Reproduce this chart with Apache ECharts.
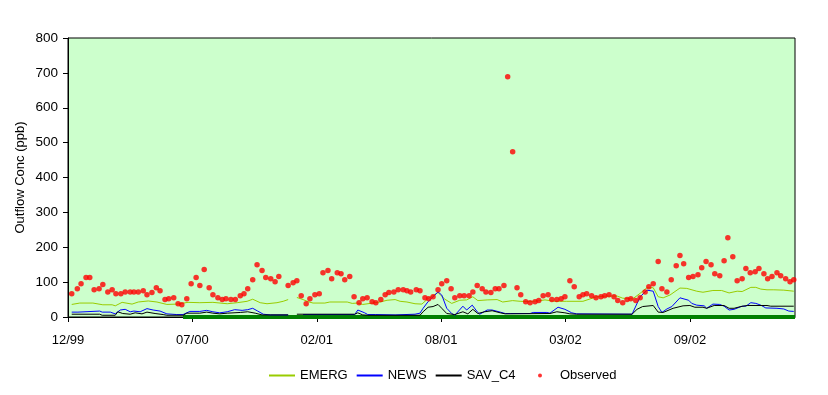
<!DOCTYPE html>
<html><head><meta charset="utf-8">
<script src="https://cdn.jsdelivr.net/npm/echarts@6/dist/echarts.min.js"></script>
<style>html,body{margin:0;padding:0;background:#fff}#c{width:828px;height:395px}</style>
</head><body><div id="c"></div>
<script>
// Days counted from 1999-12-31
const startDate = Date.UTC(1999, 11, 31);
const xTickDays = [0, 200, 400, 600, 800, 1000];
const xMaxDay = 1169;
const yTicks = [0, 100, 200, 300, 400, 500, 600, 700, 800];

const obsDay = [6,15,21,29,35,42,50,56,64,71,77,85,92,100,106,113,121,127,135,142,148,156,162,170,177,183,191,198,206,212,219,227,233,241,248,254,262,269,277,283,289,297,304,312,318,326,333,339,354,362,368,375,383,389,397,404,410,418,424,433,439,445,453,460,468,474,481,489,495,503,510,516,524,531,539,545,551,560,566,574,580,587,595,601,609,616,622,630,637,645,651,658,666,672,680,687,693,701,707,715,722,728,736,743,751,757,764,772,778,786,793,799,807,814,822,828,834,842,849,857,863,870,878,884,892,899,905,913,920,928,934,941,949,955,963,970,978,984,990,998,1005,1013,1019,1026,1034,1040,1048,1055,1061,1069,1076,1084,1090,1097,1105,1111,1119,1125,1132,1140,1146,1154,1161,1167];
const obsVal = [67,81,95,113,113,78,81,93,72,78,67,67,72,72,72,72,75,64,70,84,75,50,52,55,38,35,52,95,113,90,136,84,64,55,50,52,50,50,61,67,81,107,150,133,113,110,101,116,90,98,104,61,38,52,64,67,127,133,110,127,124,107,116,58,41,52,55,44,41,50,64,70,72,78,78,75,72,78,75,55,52,58,78,95,104,81,55,61,61,61,72,90,81,72,70,81,81,90,689,474,84,64,44,41,44,47,61,64,50,50,52,58,104,87,58,64,67,61,55,58,61,64,58,47,41,50,52,47,55,72,87,95,159,81,72,107,147,176,153,113,116,121,141,159,150,124,118,161,227,173,104,110,139,127,130,139,124,110,116,127,118,110,101,107];

const emergDay = [6,19,40,56,71,76,87,103,113,129,143,159,175,193,212,233,256,272,288,297,309,320,336,346,354,361,368,378,386,394,413,421,449,457,465,474,486,502,513,526,534,545,558,569,579,595,606,617,630,641,651,659,674,690,699,715,727,743,759,767,783,802,828,850,867,883,892,908,920,931,941,949,957,968,984,995,1011,1021,1037,1051,1063,1076,1084,1098,1106,1114,1124,1135,1151,1167];
const emergVal = [36,40,40,35,35,32,42,37,43,46,43,36,37,42,41,42,38,41,45,51,41,38,41,45,50,null,56,50,44,40,40,43,43,39,40,36,39,43,48,50,45,43,38,37,53,70,51,39,48,49,58,47,49,50,43,47,45,44,47,49,45,45,45,58,60,60,54,52,68,84,84,58,55,63,83,82,74,71,76,76,69,74,73,85,85,80,78,78,77,74];

const newsDay = [6,16,19,51,55,68,71,76,84,92,100,106,116,127,137,148,159,175,185,196,212,223,233,244,256,268,280,289,297,305,314,325,354,366,378,461,466,469,477,482,494,497,526,529,558,566,571,579,587,595,601,609,617,622,635,641,650,658,662,674,682,695,703,711,743,748,770,775,778,788,799,810,818,907,920,931,941,949,955,963,971,984,998,1003,1011,1023,1027,1037,1048,1055,1063,1071,1084,1090,1098,1106,1114,1122,1140,1151,1159,1167];
const newsVal = [14,14,17,17,14,14,10,9,20,22,15,17,15,24,20,17,9,7,7,16,16,19,15,12,15,21,19,21,25,17,8,6,6,null,7,7,20,22,12,7,7,6,6,8,8,11,25,44,58,72,63,25,10,5,31,20,34,15,8,20,20,14,10,10,10,13,13,11,10,28,22,12,9,8,58,77,74,30,13,23,30,55,48,39,34,32,25,37,36,31,20,22,31,31,41,39,34,26,25,23,17,16];

const savDay = [6,51,55,76,80,88,100,108,119,127,140,153,159,185,191,212,223,233,244,256,277,289,301,312,325,354,361,368,461,466,474,482,566,571,579,587,595,601,609,622,635,643,651,659,670,682,695,703,706,775,778,786,799,807,818,907,915,924,941,949,957,973,989,1000,1008,1021,1027,1039,1055,1063,1071,1082,1092,1124,1130,1167];
const savVal = [8,8,5,5,15,10,8,12,9,14,10,7,5,5,11,11,14,11,9,11,13,15,11,6,6,6,null,8,8,12,6,5,5,15,28,30,36,25,10,7,15,9,22,10,15,18,12,9,10,10,8,15,12,9,8,8,22,30,33,14,13,25,32,33,28,28,25,33,33,25,25,30,33,33,31,31];

const baseDay = [185, 1169];
const baseVal = [0, 0];

function pairs(d, v) { return d.map((x, i) => [x, v[i] === null ? '-' : v[i]]); }
function fmtDay(d) {
  const dt = new Date(startDate + d * 86400000);
  const m = dt.getUTCMonth() + 1;
  const y = dt.getUTCFullYear() % 100;
  return (m < 10 ? '0' : '') + m + '/' + (y < 10 ? '0' : '') + y;
}

const FONT = 'Arial, "Liberation Sans", sans-serif';
const chart = echarts.init(document.getElementById('c'), null, { renderer: 'canvas' });
chart.setOption({
  animation: false,
  backgroundColor: '#ffffff',
  grid: { left: 68, right: 33, top: 38, bottom: 78, show: true, backgroundColor: '#CCFFCC', borderColor: '#000000', borderWidth: 1 },
  legend: [
    {
      left: 263, top: 364, itemWidth: 26, itemHeight: 4, itemGap: 8,
      textStyle: { fontFamily: FONT, fontSize: 13, color: '#000' },
      data: [
        { name: 'EMERG', itemStyle: { opacity: 0 } },
        { name: 'NEWS', itemStyle: { opacity: 0 } },
        { name: 'SAV_C4', itemStyle: { opacity: 0 } }
      ]
    },
    {
      left: 533, top: 364, itemWidth: 4, itemHeight: 4,
      textStyle: { fontFamily: FONT, fontSize: 13, color: '#000', padding: [0, 0, 0, 13] },
      data: ['Observed']
    }
  ],
  xAxis: {
    type: 'value', min: 0, max: xMaxDay,
    axisLine: { show: true, lineStyle: { color: '#000', width: 1 } },
    axisTick: { show: true, length: 5, customValues: xTickDays, lineStyle: { color: '#000' } },
    axisLabel: { customValues: xTickDays, formatter: v => fmtDay(v), fontFamily: FONT, fontSize: 13, color: '#000', margin: 17 },
    splitLine: { show: false }
  },
  yAxis: {
    type: 'value', min: 0, max: 800, interval: 100,
    name: 'Outflow Conc (ppb)', nameLocation: 'middle', nameGap: 41, nameMoveOverlap: false,
    nameTextStyle: { fontFamily: FONT, fontSize: 13, color: '#000' },
    axisLine: { show: true, lineStyle: { color: '#000', width: 1 } },
    axisTick: { show: true, length: 5, lineStyle: { color: '#000' } },
    axisLabel: { fontFamily: FONT, fontSize: 13.5, color: '#000', margin: 10 },
    splitLine: { show: false }
  },
  series: [
    { name: 'base', type: 'line', data: pairs(baseDay, baseVal), symbol: 'none', clip: false,
      lineStyle: { color: '#008000', width: 4 }, z: 1, silent: true },
    { name: 'EMERG', type: 'line', data: pairs(emergDay, emergVal), symbol: 'none', connectNulls: false,
      lineStyle: { color: '#99CC00', width: 1 }, itemStyle: { color: '#99CC00' }, z: 2 },
    { name: 'NEWS', type: 'line', data: pairs(newsDay, newsVal), symbol: 'none', connectNulls: false,
      lineStyle: { color: '#0000FF', width: 1 }, itemStyle: { color: '#0000FF' }, z: 3 },
    { name: 'SAV_C4', type: 'line', data: pairs(savDay, savVal), symbol: 'none', connectNulls: false,
      lineStyle: { color: '#000000', width: 1 }, itemStyle: { color: '#000000' }, z: 4 },
    { name: 'Observed', type: 'scatter', data: pairs(obsDay, obsVal), symbol: 'circle', symbolSize: 5.5,
      itemStyle: { color: '#FF0000' }, z: 5 }
  ]
});
</script>
</body></html>
